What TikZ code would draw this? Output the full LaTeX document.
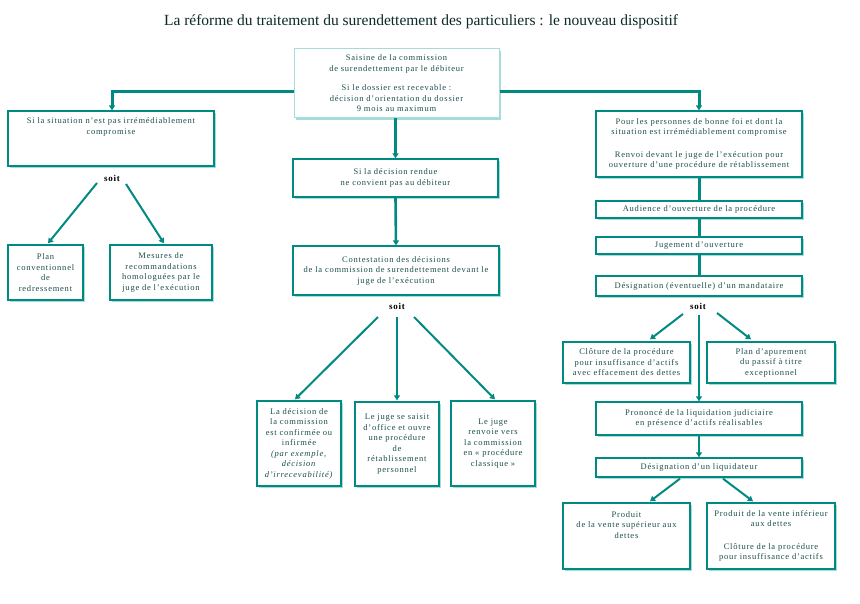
\documentclass[tikz,border=0pt]{standalone}
\usepackage{fontspec}
\setmainfont{Liberation Serif}[LetterSpace=9]
\newfontfamily\titlefont{Liberation Serif}
\usetikzlibrary{arrows.meta,calc,shadows}
\definecolor{tealc}{HTML}{008A82}
\definecolor{lightc}{HTML}{A8DCDA}
\definecolor{txtc}{HTML}{1A4F4C}
\definecolor{titlec}{HTML}{0C2A28}
\tikzset{
  box/.style={draw=tealc, line width=1.3pt, fill=white, inner xsep=3pt, inner ysep=2pt,
    align=center, text=txtc, font=\fontsize{8.5}{10.5}\selectfont,
    drop shadow={shadow xshift=1.6pt, shadow yshift=-1.6pt, fill=lightc, opacity=1}},
  topbox/.style={box, draw=lightc, line width=1pt,
    drop shadow={shadow xshift=1.5pt, shadow yshift=-2.5pt, fill=lightc, opacity=1}},
  soitlbl/.style={font=\bfseries\fontsize{9}{10}\selectfont, text=black, inner sep=1pt},
  tip/.style={-{Triangle[length=5pt,width=6pt]}},
  mainline/.style={draw=tealc, line width=3pt},
  diag/.style={draw=tealc, line width=2pt, tip},
  vert/.style={draw=tealc, line width=2.6pt, tip},
}
\newcommand\mkbox[7][box]{%
  \pgfmathsetmacro\bw{#5-#3}\pgfmathsetmacro\bh{#6-#4}%
  \pgfmathsetmacro\btw{#5-#3-6}%
  \pgfmathsetmacro\bcx{(#3+#5)/2}\pgfmathsetmacro\bcy{(#4+#6)/2}%
  \node[#1, minimum width=\bw pt, minimum height=\bh pt, text width=\btw pt] (#2) at (\bcx,\bcy) {#7};}
\begin{document}
\begin{tikzpicture}[x=1pt,y=-1pt]
\useasboundingbox[fill=white] (0,0) rectangle (860,604);
\node[text=titlec, font=\titlefont\fontsize{15.5}{17}\selectfont, inner sep=0pt] (title) at (421,22)
  {La réforme du traitement du surendettement des particuliers : le nouveau dispositif};

\mkbox[topbox]{saisine}{294}{49}{499}{118}{Saisine de la commission\\de surendettement par le débiteur\\[9pt]Si le dossier est recevable :\\décision d'orientation du dossier\\9 mois au maximum}

% left branch
\mkbox{sitA}{8}{111}{214}{166}{Si la situation n'est pas irrémédiablement\\compromise\\[14pt]\mbox{}}
\mkbox{plan}{8}{245}{83}{300}{Plan\\conventionnel\\de\\redressement}
\mkbox{mesures}{110}{245}{212}{300}{Mesures de\\recommandations\\homologuées par le\\juge de l'exécution}
\node[soitlbl] (soitL) at (112,178) {soit};
\draw[diag] ($(soitL)+(-15,5)$) -- ($(plan.north)+(2.5,-1)$);
\draw[diag] ($(soitL)+(14,6)$) -- ($(mesures.north)+(3,-1)$);

% middle branch
\mkbox{decision}{293}{159}{498}{197}{Si la décision rendue\\ne convient pas au débiteur}
\mkbox{contest}{293}{246}{499}{295}{Contestation des décisions\\de la commission de surendettement devant le\\juge de l'exécution}
\draw[vert] (decision.north |- saisine.south) -- (decision.north);
\draw[vert] (decision.south) -- (contest.north);
\node[soitlbl] (soitM) at (397,306) {soit};
\mkbox{conf}{257}{401}{341}{486}{La décision de\\la commission\\est confirmée ou\\infirmée\\\textit{(par exemple,}\\\textit{décision}\\\textit{d'irrecevabilité)}}
\mkbox{juge}{355}{402}{439}{486}{Le juge se saisit\\d'office et ouvre\\une procédure\\de\\rétablissement\\personnel}
\mkbox{renvoie}{451}{401}{535}{486}{Le juge\\renvoie vers\\la commission\\en « procédure\\classique »}
\draw[diag] ($(soitM)+(-19,11)$) -- ($(conf.north)+(-4,-1)$);
\draw[vert, line width=2.2pt] ($(soitM)+(0,11)$) -- ($(juge.north)+(0,-1)$);
\draw[diag] ($(soitM)+(17,11)$) -- ($(renvoie.north)+(2,-1)$);

% right branch
\mkbox{bonne}{596}{111}{802}{177}{Pour les personnes de bonne foi et dont la\\situation est irrémédiablement compromise\\[12pt]Renvoi devant le juge de l'exécution pour\\ouverture d'une procédure de rétablissement}
\mkbox{audience}{596}{201}{802}{218}{Audience d'ouverture de la procédure}
\mkbox{jugement}{596}{237}{802}{254}{Jugement d'ouverture}
\mkbox{desig}{596}{276}{802}{296}{Désignation (éventuelle) d'un mandataire}
\draw[mainline] (bonne.south) -- (audience.north);
\draw[mainline] (audience.south) -- (jugement.north);
\draw[mainline] (jugement.south) -- (desig.north);
\node[soitlbl] (soitR) at (698,306) {soit};
\mkbox{cloture}{563}{342}{690}{383}{Clôture de la procédure\\pour insuffisance d'actifs\\avec effacement des dettes}
\mkbox{apur}{707}{342}{835}{383}{Plan d'apurement\\du passif à titre\\exceptionnel}
\mkbox{prononce}{596}{402}{802}{435}{Prononcé de la liquidation judiciaire\\en présence d'actifs réalisables}
\mkbox{liquid}{596}{458}{802}{477}{Désignation d'un liquidateur}
\draw[diag] ($(soitR)+(-15,8)$) -- ($(cloture.north)+(23.5,-2)$);
\draw[vert] ($(soitR)+(1,9)$) -- (prononce.north);
\draw[diag] ($(soitR)+(19,7)$) -- ($(apur.north)+(-20,-2)$);
\draw[vert] (prononce.south) -- (liquid.north);
\mkbox{produit}{563}{503}{690}{569}{Produit\\de la vente supérieur aux\\dettes\\[12pt]\mbox{}}
\mkbox{produitinf}{707}{503}{835}{569}{Produit de la vente inférieur\\aux dettes\\[12pt]Clôture de la procédure\\pour insuffisance d'actifs}
\draw[diag] ($(liquid.south)+(-19,1)$) -- ($(produit.north)+(23.5,-1)$);
\draw[diag] ($(liquid.south)+(24,1)$) -- ($(produitinf.north)+(-18,-1)$);

% main distribution lines
\draw[mainline, tip] ($(saisine.west)+(0,8.5)$) -| ($(sitA.north)+(1,0)$);
\draw[mainline, tip] ($(saisine.east)+(0,8.5)$) -| (bonne.north);
\end{tikzpicture}
\end{document}
